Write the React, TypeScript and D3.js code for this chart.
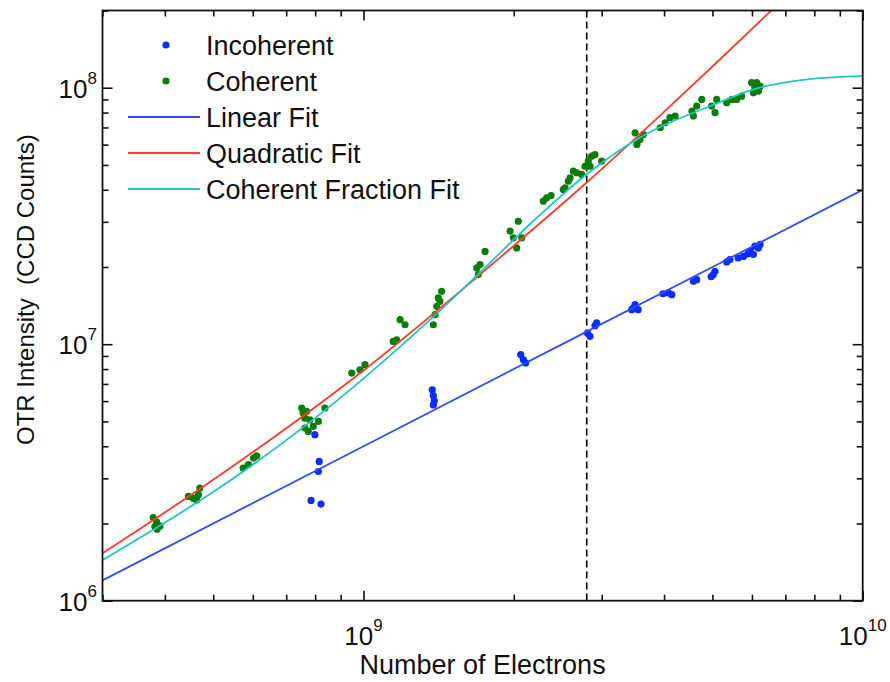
import React, { useEffect, useRef } from 'react'
import * as d3 from 'd3'

const W = 890
const H = 682
const LEFT = 102.5
const RIGHT = 862.7
const TOP = 10.5
const BOTTOM = 600.7
const FONT = '"Liberation Sans", Arial, Helvetica, sans-serif'

const xDomain = [3e8, 1e10]
const yDomain = [1e6, 2e8]
const xLabelExps = [9, 10]
const yLabelExps = [6, 7, 8]
const cutoffN = 2.8e9

// incoherent OTR points (number of electrons, CCD counts)
const incoherentN = [7.99e8, 8.15e8, 8.12e8, 7.85e8, 8.22e8,
  1.373e9, 1.38e9, 1.386e9, 1.38e9,
  2.065e9, 2.09e9, 2.113e9,
  2.81e9, 2.843e9, 2.909e9, 2.932e9,
  3.5e9, 3.55e9, 3.47e9, 3.445e9,
  4.08e9, 4.145e9, 3.98e9,
  4.58e9, 4.65e9,
  5.02e9, 5.06e9, 4.97e9,
  5.34e9, 5.42e9,
  5.63e9, 5.77e9,
  5.95e9, 6.08e9, 6.18e9, 6.04e9, 6.23e9, 5.89e9]
const incoherentI = [4.44e6, 3.49e6, 3.19e6, 2.46e6, 2.38e6,
  6.64e6, 6.3e6, 6.02e6, 5.8e6,
  9.1e6, 8.7e6, 8.45e6,
  1.106e7, 1.073e7, 1.181e7, 1.21e7,
  1.427e7, 1.363e7, 1.384e7, 1.363e7,
  1.584e7, 1.56e7, 1.573e7,
  1.759e7, 1.785e7,
  1.868e7, 1.924e7, 1.834e7,
  2.094e7, 2.137e7,
  2.17e7, 2.2e7,
  2.3e7, 2.41e7, 2.37e7, 2.24e7, 2.45e7, 2.25e7]

// coherent OTR points
const coherentN = [3.79e8, 3.85e8, 3.82e8, 3.91e8, 3.86e8,
  4.46e8, 4.56e8, 4.7e8, 4.67e8, 4.63e8,
  5.74e8, 5.88e8, 6.02e8, 6.11e8,
  7.52e8, 7.57e8, 7.63e8, 7.69e8, 7.81e8, 7.63e8, 7.75e8, 7.93e8, 8.12e8, 8.37e8,
  9.47e8, 9.84e8, 1.007e9,
  1.147e9, 1.165e9, 1.184e9, 1.211e9,
  1.38e9, 1.391e9, 1.402e9, 1.412e9, 1.434e9, 1.423e9,
  1.686e9, 1.712e9, 1.752e9, 1.698e9,
  1.966e9, 1.996e9, 2.042e9, 2.027e9, 2.075e9,
  2.292e9, 2.328e9, 2.375e9,
  2.533e9, 2.593e9, 2.674e9, 2.736e9, 2.513e9, 2.572e9, 2.632e9,
  2.778e9, 2.82e9, 2.865e9, 2.909e9, 3.0e9, 2.843e9,
  3.5e9, 3.53e9, 3.58e9, 3.635e9,
  3.93e9, 4.02e9, 4.11e9, 4.21e9,
  4.55e9, 4.58e9, 4.65e9, 4.76e9,
  4.98e9, 5.06e9, 5.1e9,
  5.34e9, 5.47e9, 5.59e9, 5.72e9,
  5.99e9, 6.13e9, 6.04e9, 6.18e9, 6.23e9, 6.08e9]
const coherentI = [2.11e6, 2.03e6, 1.945e6, 1.957e6, 1.9e6,
  2.55e6, 2.51e6, 2.75e6, 2.59e6, 2.47e6,
  3.29e6, 3.39e6, 3.6e6, 3.67e6,
  5.64e6, 5.39e6, 5.15e6, 5.47e6, 5.07e6, 4.71e6, 4.57e6, 4.78e6, 5.0e6, 5.64e6,
  7.72e6, 7.95e6, 8.32e6,
  1.025e7, 1.041e7, 1.246e7, 1.191e7,
  1.191e7, 1.303e7, 1.405e7, 1.515e7, 1.607e7, 1.469e7,
  1.983e7, 2.043e7, 2.3e7, 1.869e7,
  2.76e7, 2.598e7, 3.015e7, 2.374e7, 2.598e7,
  3.61e7, 3.72e7, 3.8e7,
  4.07e7, 4.45e7, 4.66e7, 4.59e7, 4.01e7, 4.32e7, 4.73e7,
  4.94e7, 5.17e7, 5.41e7, 5.49e7, 5.17e7, 4.94e7,
  6.67e7, 6.01e7, 6.28e7, 6.57e7,
  6.98e7, 7.3e7, 7.64e7, 7.75e7,
  8.1e7, 7.75e7, 8.48e7, 9.0e7,
  8.48e7, 7.99e7, 9.0e7,
  8.74e7, 9.0e7, 9.0e7, 9.27e7,
  1.046e8, 1.046e8, 9.56e7, 9.7e7, 1.014e8, 1.0e8]

// fit curves, points
const linearFitN = [3e8, 2.8e9, 1e10]
const linearFitI = [1.2e6, 1.12e7, 4.0e7]
const quadFitN = [3e8, 5e8, 1e9, 2e9, 2.8e9, 4e9, 5e9, 6.7e9, 7.5e9]
const quadFitI = [1.53e6, 2.96e6, 7.9e6, 2.42e7, 4.27e7, 8.05e7, 1.21e8, 2.08e8, 2.57e8]
const fracFitN = [3e8, 6e8, 9.4e8, 1.38e9, 1.71e9, 2.2e9, 2.8e9, 3.58e9, 4.94e9, 6.22e9, 7.83e9, 1e10]
const fracFitI = [1.44e6, 3.39e6, 6.64e6, 1.28e7, 1.9e7, 3.05e7, 4.6e7, 6.4e7, 8.47e7, 1.0e8, 1.08e8, 1.11e8]

const legendLabels = ['Incoherent', 'Coherent', 'Linear Fit', 'Quadratic Fit', 'Coherent Fraction Fit']

const BLUE_DOT = '#0a2cff'
const GREEN_DOT = '#0b7d0b'
const BLUE_LINE = '#2f4dff'
const RED_LINE = '#ff3b2b'
const CYAN_LINE = '#1fc6c6'

const x = d3.scaleLog().domain(xDomain).range([LEFT, RIGHT])
const y = d3.scaleLog().domain(yDomain).range([BOTTOM, TOP])

const isPow10 = (v: number) => Math.abs(Math.log10(v) - Math.round(Math.log10(v))) < 1e-9

const App = () => {
  const axesRef = useRef<SVGGElement>(null)

  useEffect(() => {
    const g = d3.select(axesRef.current)
    g.selectAll('*').remove()
    const xMajor = x.ticks().filter(isPow10)
    const xMinor = x.ticks().filter(v => !isPow10(v))
    const yMajor = y.ticks().filter(isPow10)
    const yMinor = y.ticks().filter(v => !isPow10(v))
    const put = (axis, t) => g.append('g').attr('transform', t).call(axis.tickFormat(() => ''))

    put(d3.axisBottom(x).tickValues(xMajor).tickSize(-10), `translate(0,${BOTTOM})`)
    put(d3.axisBottom(x).tickValues(xMinor).tickSize(-6), `translate(0,${BOTTOM})`)
    put(d3.axisTop(x).tickValues(xMajor).tickSize(-10), `translate(0,${TOP})`)
    put(d3.axisTop(x).tickValues(xMinor).tickSize(-6), `translate(0,${TOP})`)
    put(d3.axisLeft(y).tickValues(yMajor).tickSize(-10), `translate(${LEFT},0)`)
    put(d3.axisLeft(y).tickValues(yMinor).tickSize(-6), `translate(${LEFT},0)`)
    put(d3.axisRight(y).tickValues(yMajor).tickSize(-10), `translate(${RIGHT},0)`)
    put(d3.axisRight(y).tickValues(yMinor).tickSize(-6), `translate(${RIGHT},0)`)

    g.selectAll('.domain').remove()
    g.selectAll('line').attr('stroke', '#111').attr('stroke-width', 1.6)
  }, [])

  const line = d3.line<number>()
    .x(d => x(d[0]))
    .y(d => y(d[1]))
    .curve(d3.curveMonotoneX)

  const linearPts = linearFitN.map((n, i) => [n, linearFitI[i]])
  const quadPts = quadFitN.map((n, i) => [n, quadFitI[i]])
  const fracPts = fracFitN.map((n, i) => [n, fracFitI[i]])
  const incoherent = incoherentN.map((n, i) => [n, incoherentI[i]])
  const coherent = coherentN.map((n, i) => [n, coherentI[i]])

  const legendRow = (i: number) => 45 + i * 36

  return (
    <div style={{ position: 'absolute', left: 0, top: 0 }}>
      <svg width={W} height={H} style={{ display: 'block', background: '#fff' }} fontFamily={FONT}>
        <defs>
          <clipPath id="plotClip">
            <rect x={LEFT} y={TOP} width={RIGHT - LEFT} height={BOTTOM - TOP} />
          </clipPath>
        </defs>

        <g clipPath="url(#plotClip)">
          <line x1={x(cutoffN)} x2={x(cutoffN)} y1={TOP} y2={BOTTOM}
            stroke="#000" strokeWidth={1.6} strokeDasharray="7,4" />
          {incoherent.map((d, i) => (
            <circle key={'b' + i} cx={x(d[0])} cy={y(d[1])} r={3.6} fill={BLUE_DOT} />
          ))}
          {coherent.map((d, i) => (
            <circle key={'g' + i} cx={x(d[0])} cy={y(d[1])} r={3.6} fill={GREEN_DOT} />
          ))}
          <path d={line(linearPts)} fill="none" stroke={BLUE_LINE} strokeWidth={1.8} />
          <path d={line(quadPts)} fill="none" stroke={RED_LINE} strokeWidth={1.8} />
          <path d={line(fracPts)} fill="none" stroke={CYAN_LINE} strokeWidth={1.8} />
        </g>

        <g ref={axesRef} />
        <rect x={LEFT} y={TOP} width={RIGHT - LEFT} height={BOTTOM - TOP}
          fill="none" stroke="#111" strokeWidth={1.8} />

        {xLabelExps.map(e => (
          <text key={'xl' + e} x={x(Math.pow(10, e))} y={645} textAnchor="middle"
            fontSize={26} fill="#111">
            10<tspan dy={-14} fontSize={17}>{e}</tspan>
          </text>
        ))}
        {yLabelExps.map(e => (
          <text key={'yl' + e} x={97} y={y(Math.pow(10, e)) + 10} textAnchor="end"
            fontSize={26} fill="#111">
            10<tspan dy={-14} fontSize={17}>{e}</tspan>
          </text>
        ))}

        <text x={(LEFT + RIGHT) / 2} y={674} textAnchor="middle" fontSize={27} fill="#111">
          Number of Electrons
        </text>
        <text transform={`translate(34,${(TOP + BOTTOM) / 2 - 16}) rotate(-90)`} textAnchor="middle"
          fontSize={24} fill="#111" style={{ whiteSpace: 'pre' }}>
          {'OTR Intensity  (CCD Counts)'}
        </text>

        <g>
          <circle cx={166} cy={legendRow(0)} r={3.6} fill={BLUE_DOT} />
          <circle cx={166} cy={legendRow(1)} r={3.6} fill={GREEN_DOT} />
          <line x1={128} x2={200} y1={legendRow(2)} y2={legendRow(2)} stroke={BLUE_LINE} strokeWidth={1.8} />
          <line x1={128} x2={200} y1={legendRow(3)} y2={legendRow(3)} stroke={RED_LINE} strokeWidth={1.8} />
          <line x1={128} x2={200} y1={legendRow(4)} y2={legendRow(4)} stroke={CYAN_LINE} strokeWidth={1.8} />
          {legendLabels.map((t, i) => (
            <text key={t} x={206} y={legendRow(i) + 9.5} fontSize={27} fill="#111">{t}</text>
          ))}
        </g>
      </svg>
    </div>
  )
}

export default App
